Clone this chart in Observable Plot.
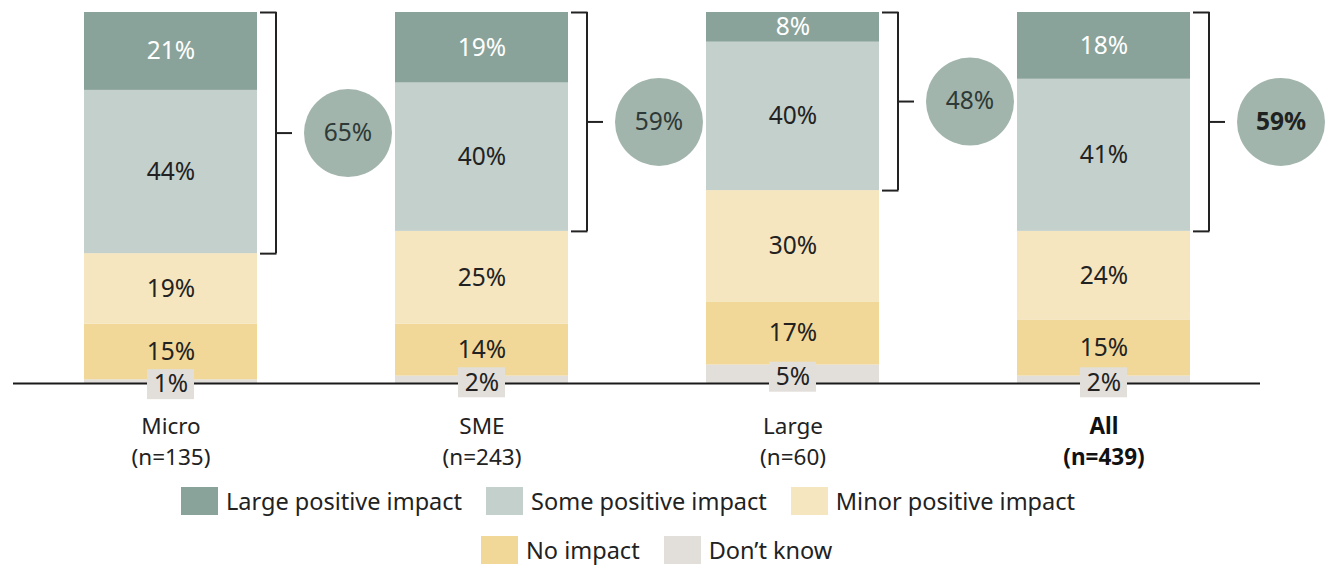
<!DOCTYPE html>
<html>
<head>
<meta charset="utf-8">
<script src="https://cdn.jsdelivr.net/npm/d3@7"></script>
<script src="https://cdn.jsdelivr.net/npm/@observablehq/plot@0.6"></script>
<style>
  html, body { margin: 0; padding: 0; background: #fff; }
  body { width: 1329px; height: 566px; overflow: hidden; font-family: "Noto Sans", sans-serif; color: #222; }
  #chart svg { display: block; }
  .legend-row { display: flex; align-items: center; height: 28px; position: relative; }
  .legend-item { display: flex; align-items: center; margin-right: 24px; font-size: 23.5px; white-space: nowrap; }
  .legend-item:last-child { margin-right: 0; }
  .sw { width: 37px; height: 28px; margin-right: 8px; flex: none; }
</style>
</head>
<body>
<div id="chart"></div>
<div id="legend"></div>
<script>
// ---- data ----
const categories = ["Micro", "SME", "Large", "All"];
const sampleSizes = ["(n=135)", "(n=243)", "(n=60)", "(n=439)"];
const responses = ["Don't know", "No impact", "Minor positive impact", "Some positive impact", "Large positive impact"]; // bottom -> top
const dontKnow = [1, 2, 5, 2];
const noImpact = [15, 14, 17, 15];
const minorPositive = [19, 25, 30, 24];
const somePositive = [44, 40, 40, 41];
const largePositive = [21, 19, 8, 18];
const positiveTotals = [65, 59, 48, 59];
const legendOrder = ["Large positive impact", "Some positive impact", "Minor positive impact", "No impact", "Don\u2019t know"];
const colors = {
  "Large positive impact": "#8aa39a",
  "Some positive impact": "#c3d0cb",
  "Minor positive impact": "#f5e6c0",
  "No impact": "#f1d898",
  "Don't know": "#e2dfda"
};
const circleColor = "#a2b5ac";

// ---- build tables ----
const seriesValues = [dontKnow, noImpact, minorPositive, somePositive, largePositive];
const segments = [];
categories.forEach((c, i) => {
  let acc = 0;
  responses.forEach((r, k) => {
    const v = seriesValues[k][i];
    segments.push({category: c, response: r, value: v, y1: acc, y2: acc + v, mid: acc + v / 2});
    acc += v;
  });
});
const summary = categories.map((c, i) => ({
  category: c,
  label: `${c}\n${sampleSizes[i]}`,
  total: positiveTotals[i],
  top: 100,
  bottom: 100 - (largePositive[i] + somePositive[i]),
  middle: 100 - (largePositive[i] + somePositive[i]) / 2
}));

const ink = "#222";
const pct = d => `${d.value}%`;
const labelSize = 24.5;
const catSize = 22.5;

const plot = Plot.plot({
  width: 1329,
  height: 485,
  marginTop: 12,
  marginBottom: 102,
  marginLeft: 0,
  marginRight: 55,
  style: {fontFamily: "Noto Sans, sans-serif", background: "#fff"},
  x: {domain: categories, paddingInner: 0.445, paddingOuter: 0.266, axis: null},
  y: {domain: [0, 100], axis: null},
  marks: [
    Plot.barY(segments, {x: "category", y1: "y1", y2: "y2", fill: d => colors[d.response]}),
    Plot.ruleY([0], {stroke: "#1a1a1a", strokeWidth: 2.2, insetLeft: 13, insetRight: 14}),
    // small-value label boxes
    Plot.rect(segments.filter(d => d.response === "Don't know"), {
      x: "category", y1: "mid", y2: "mid", fill: colors["Don't know"],
      insetLeft: 63, insetRight: 63, insetTop: -15, insetBottom: -15, dy: 3
    }),
    // segment labels
    Plot.text(segments.filter(d => d.response === "Large positive impact"), {
      x: "category", y: "mid", text: pct, fill: "#fff", fontSize: labelSize
    }),
    Plot.text(segments.filter(d => d.response !== "Large positive impact" && d.response !== "Don't know"), {
      x: "category", y: "mid", text: pct, fill: ink, fontSize: labelSize
    }),
    Plot.text(segments.filter(d => d.response === "Don't know"), {
      x: "category", y: "mid", text: pct, fill: ink, fontSize: labelSize, dy: 3
    }),
    // brackets
    Plot.ruleX(summary, {x: "category", y1: "bottom", y2: "top", dx: 105, stroke: ink, strokeWidth: 2}),
    Plot.tickY(summary, {x: "category", y: "top", insetLeft: 176, insetRight: -19.5, stroke: ink, strokeWidth: 2}),
    Plot.tickY(summary, {x: "category", y: "bottom", insetLeft: 176, insetRight: -19.5, stroke: ink, strokeWidth: 2}),
    Plot.tickY(summary, {x: "category", y: "middle", insetLeft: 192, insetRight: -35, stroke: ink, strokeWidth: 2}),
    // circles
    Plot.dot(summary, {x: "category", y: "middle", r: 44, fill: circleColor, dx: 177}),
    Plot.text(summary.filter(d => d.category !== "All"), {
      x: "category", y: "middle", text: d => `${d.total}%`, dx: 177, fill: "#2e3a37", fontSize: labelSize
    }),
    Plot.text(summary.filter(d => d.category === "All"), {
      x: "category", y: "middle", text: d => `${d.total}%`, dx: 177, fill: "#1e2220", fontSize: labelSize, fontWeight: "bold"
    }),
    // category labels (two lines each)
    Plot.text(summary.filter(d => d.category !== "All"), {
      x: "category", y: () => 0, text: "label", dy: 56, lineAnchor: "middle", lineHeight: 1.38, fill: ink, fontSize: catSize
    }),
    Plot.text(summary.filter(d => d.category === "All"), {
      x: "category", y: () => 0, text: "label", dy: 56, lineAnchor: "middle", lineHeight: 1.38, fill: "#111", fontSize: catSize, fontWeight: "bold"
    })
  ]
});
document.getElementById("chart").appendChild(plot);

// ---- legend (HTML, below the SVG) ----
const legend = document.getElementById("legend");
const rows = [legendOrder.slice(0, 3), legendOrder.slice(3)];
const rowStyles = [
  {marginTop: "2px", left: "181px"},
  {marginTop: "21px", left: "481px"}
];
rows.forEach((items, ri) => {
  const row = document.createElement("div");
  row.className = "legend-row";
  row.style.marginTop = rowStyles[ri].marginTop;
  row.style.left = rowStyles[ri].left;
  items.forEach(label => {
    const key = label === "Don\u2019t know" ? "Don't know" : label;
    const item = document.createElement("div");
    item.className = "legend-item";
    const sw = document.createElement("div");
    sw.className = "sw";
    sw.style.background = colors[key];
    const tx = document.createElement("span");
    tx.textContent = label;
    item.appendChild(sw);
    item.appendChild(tx);
    row.appendChild(item);
  });
  legend.appendChild(row);
});
</script>
</body>
</html>
